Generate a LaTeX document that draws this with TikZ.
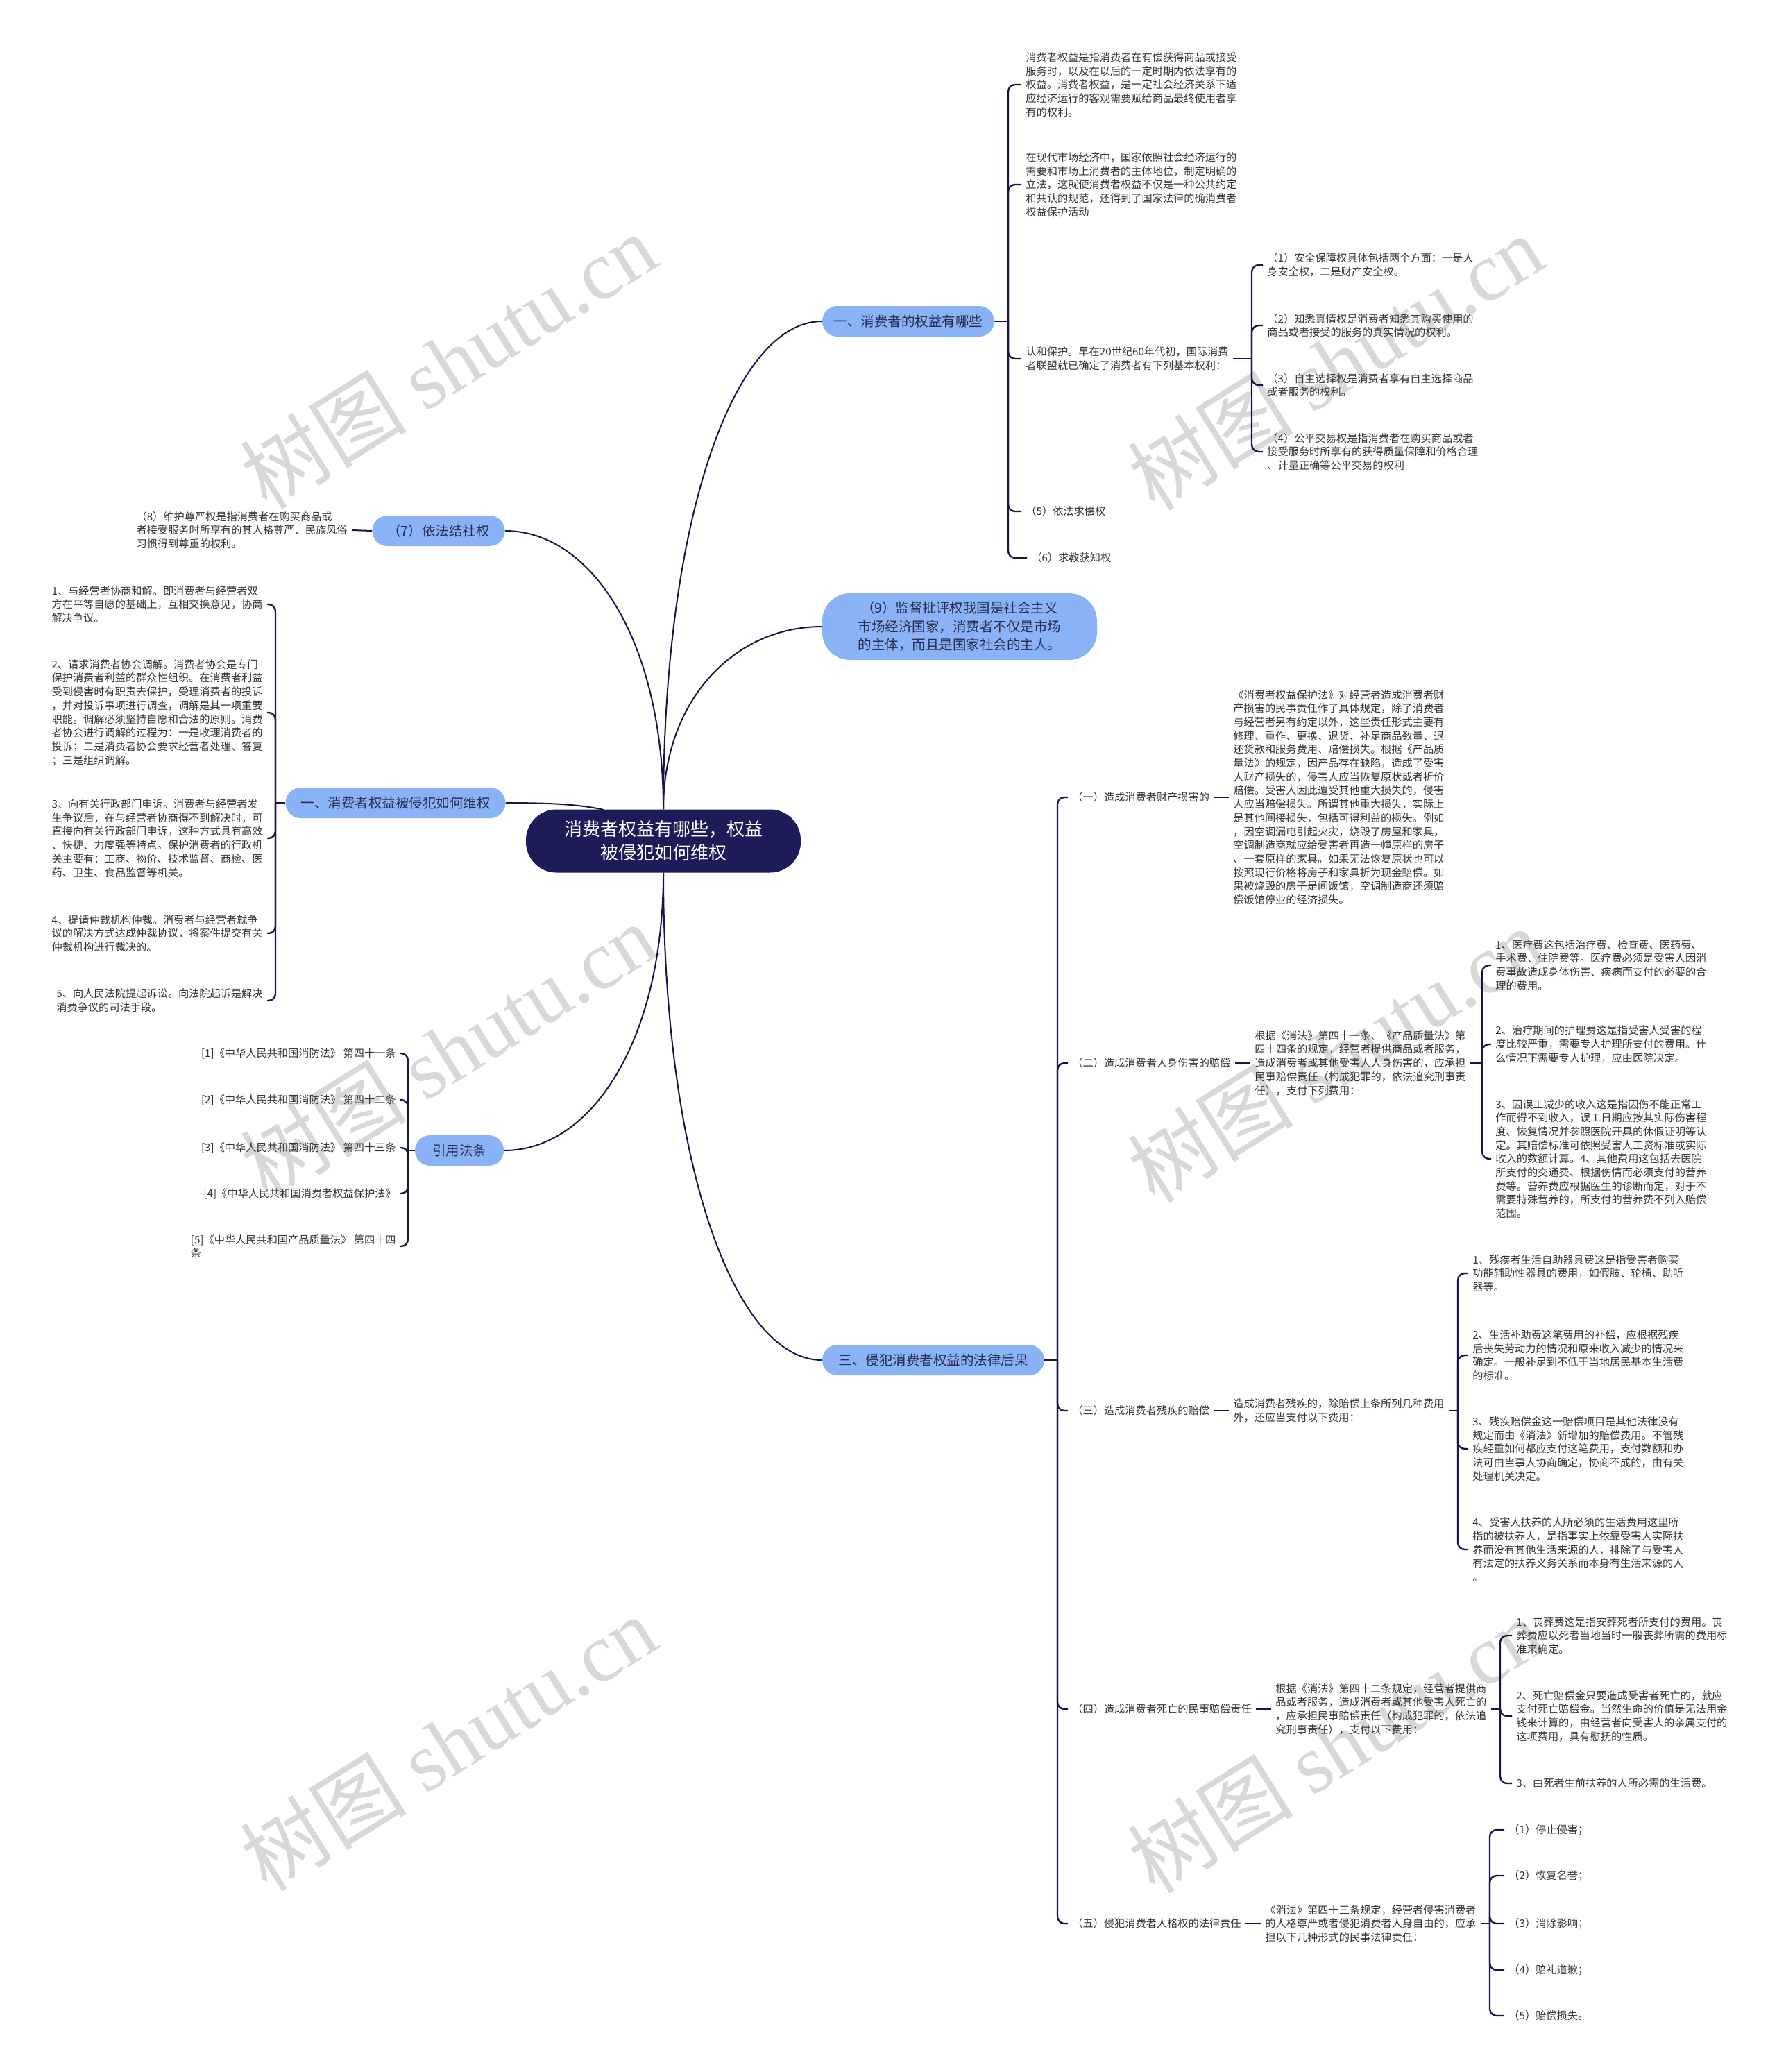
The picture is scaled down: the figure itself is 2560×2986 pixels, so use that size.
\documentclass[tikz,border=0pt]{standalone}
\usepackage{fontspec}
\setmainfont{Noto Sans CJK SC}
\newfontfamily\wmlatin{Liberation Serif}
\definecolor{navy}{RGB}{30,28,88}
\definecolor{lnc}{RGB}{22,22,70}
\definecolor{blu}{RGB}{137,178,247}
\definecolor{blutext}{RGB}{40,44,78}
\definecolor{txtc}{RGB}{51,51,51}
\definecolor{wmc}{RGB}{216,216,216}
\tikzset{
 txt/.style={inner sep=3pt, align=left, text=txtc, font=\fontsize{7.6}{9.85}\selectfont},
 bnode/.style={fill=blu, text=blutext, rounded corners=11pt, minimum height=22pt, inner sep=0pt, align=center, font=\fontsize{9.75}{13.3}\selectfont},
 rootn/.style={fill=navy, text=white, rounded corners=22pt, minimum width=198pt, minimum height=45.5pt, inner sep=0pt, align=center, font=\fontsize{13}{17}\selectfont},
 conn/.style={draw=lnc, line width=1pt},
 brace/.style={draw=lnc, line width=1.2pt, rounded corners=5pt},
 wm/.style={text=wmc, inner sep=0pt, font=\fontsize{60}{60}\selectfont}
}
\begin{document}
\begin{tikzpicture}[x=0.5pt,y=-0.5pt]
\fill[white] (0,0) rectangle (2560,2986);
\useasboundingbox (0,0) rectangle (2560,2986);
% watermarks
\node[wm, rotate=32] (w1) at (646,520) {树图 {\wmlatin shutu.cn}};
\node[wm, rotate=32] (w2) at (646,1514) {树图 {\wmlatin shutu.cn}};
\node[wm, rotate=32] (w3) at (646,2512) {树图 {\wmlatin shutu.cn}};
\node[wm, rotate=32] (w4) at (1924,522) {树图 {\wmlatin shutu.cn}};
\node[wm, rotate=32] (w5) at (1924,1520) {树图 {\wmlatin shutu.cn}};
\node[wm, rotate=32] (w6) at (1924,2515) {树图 {\wmlatin shutu.cn}};

% root and branch nodes
\node[rootn] (root) at (956,1212) {消费者权益有哪些，权益\\被侵犯如何维权};
\node[bnode, minimum width=124pt] (B1) at (1309,463) {一、消费者的权益有哪些};
\node[bnode, minimum width=198pt, minimum height=48pt, rounded corners=20pt] (B9) at (1383,903) {（9）监督批评权我国是社会主义\\市场经济国家，消费者不仅是市场\\的主体，而且是国家社会的主人。};
\node[bnode, minimum width=160pt] (B3) at (1345,1960) {三、侵犯消费者权益的法律后果};
\node[bnode, minimum width=95.5pt] (B7) at (632,765) {（7）依法结社权};
\node[bnode, minimum width=158.5pt] (BL) at (570,1157) {一、消费者权益被侵犯如何维权};
\node[bnode, minimum width=64pt] (BR) at (662,1658) {引用法条};
\coordinate (rootTL) at (870,1167);

% branch 1 children
\node[txt, anchor=west] (a1) at (1472,122) {消费者权益是指消费者在有偿获得商品或接受\\服务时，以及在以后的一定时期内依法享有的\\权益。消费者权益，是一定社会经济关系下适\\应经济运行的客观需要赋给商品最终使用者享\\有的权利。};
\node[txt, anchor=west] (a2) at (1472,266) {在现代市场经济中，国家依照社会经济运行的\\需要和市场上消费者的主体地位，制定明确的\\立法，这就使消费者权益不仅是一种公共约定\\和共认的规范，还得到了国家法律的确消费者\\权益保护活动};
\node[txt, anchor=west] (a3) at (1472,517) {认和保护。早在20世纪60年代初，国际消费\\者联盟就已确定了消费者有下列基本权利：};
\node[txt, anchor=west] (a31) at (1820,382) {（1）安全保障权具体包括两个方面：一是人\\身安全权，二是财产安全权。};
\node[txt, anchor=west] (a32) at (1820,469) {（2）知悉真情权是消费者知悉其购买使用的\\商品或者接受的服务的真实情况的权利。};
\node[txt, anchor=west] (a33) at (1820,555) {（3）自主选择权是消费者享有自主选择商品\\或者服务的权利。};
\node[txt, anchor=west] (a34) at (1820,651) {（4）公平交易权是指消费者在购买商品或者\\接受服务时所享有的获得质量保障和价格合理\\、计量正确等公平交易的权利};
\node[txt, anchor=west] (a4) at (1472,737) {（5）依法求偿权};
\node[txt, anchor=west] (a5) at (1480,804) {（6）求教获知权};

% branch 3 children
\node[txt, anchor=west] (l1) at (1539,1149) {（一）造成消费者财产损害的};
\node[txt, anchor=west] (t1) at (1771,1149) {《消费者权益保护法》对经营者造成消费者财\\产损害的民事责任作了具体规定，除了消费者\\与经营者另有约定以外，这些责任形式主要有\\修理、重作、更换、退货、补足商品数量、退\\还货款和服务费用、赔偿损失。根据《产品质\\量法》的规定，因产品存在缺陷，造成了受害\\人财产损失的，侵害人应当恢复原状或者折价\\赔偿。受害人因此遭受其他重大损失的，侵害\\人应当赔偿损失。所谓其他重大损失，实际上\\是其他间接损失，包括可得利益的损失。例如\\，因空调漏电引起火灾，烧毁了房屋和家具，\\空调制造商就应给受害者再造一幢原样的房子\\、一套原样的家具。如果无法恢复原状也可以\\按照现行价格将房子和家具折为现金赔偿。如\\果被烧毁的房子是间饭馆，空调制造商还须赔\\偿饭馆停业的经济损失。};
\node[txt, anchor=west] (l2) at (1539,1532) {（二）造成消费者人身伤害的赔偿};
\node[txt, anchor=west] (t2) at (1802,1532) {根据《消法》第四十一条、《产品质量法》第\\四十四条的规定，经营者提供商品或者服务，\\造成消费者或其他受害人人身伤害的，应承担\\民事赔偿责任（构成犯罪的，依法追究刑事责\\任），支付下列费用：};
\node[txt, anchor=west] (c21) at (2149,1391) {1、医疗费这包括治疗费、检查费、医药费、\\手术费、住院费等。医疗费必须是受害人因消\\费事故造成身体伤害、疾病而支付的必要的合\\理的费用。};
\node[txt, anchor=west] (c22) at (2149,1505) {2、治疗期间的护理费这是指受害人受害的程\\度比较严重，需要专人护理所支付的费用。什\\么情况下需要专人护理，应由医院决定。};
\node[txt, anchor=west] (c23) at (2149,1670) {3、因误工减少的收入这是指因伤不能正常工\\作而得不到收入，误工日期应按其实际伤害程\\度、恢复情况并参照医院开具的休假证明等认\\定。其赔偿标准可依照受害人工资标准或实际\\收入的数额计算。4、其他费用这包括去医院\\所支付的交通费、根据伤情而必须支付的营养\\费等。营养费应根据医生的诊断而定，对于不\\需要特殊营养的，所支付的营养费不列入赔偿\\范围。};
\node[txt, anchor=west] (l3) at (1539,2033) {（三）造成消费者残疾的赔偿};
\node[txt, anchor=west] (t3) at (1771,2033) {造成消费者残疾的，除赔偿上条所列几种费用\\外，还应当支付以下费用：};
\node[txt, anchor=west] (c31) at (2116,1835) {1、残疾者生活自助器具费这是指受害者购买\\功能辅助性器具的费用，如假肢、轮椅、助听\\器等。};
\node[txt, anchor=west] (c32) at (2116,1953) {2、生活补助费这笔费用的补偿，应根据残疾\\后丧失劳动力的情况和原来收入减少的情况来\\确定。一般补足到不低于当地居民基本生活费\\的标准。};
\node[txt, anchor=west] (c33) at (2116,2088) {3、残疾赔偿金这一赔偿项目是其他法律没有\\规定而由《消法》新增加的赔偿费用。不管残\\疾轻重如何都应支付这笔费用，支付数额和办\\法可由当事人协商确定，协商不成的，由有关\\处理机关决定。};
\node[txt, anchor=west] (c34) at (2116,2233) {4、受害人扶养的人所必须的生活费用这里所\\指的被扶养人，是指事实上依靠受害人实际扶\\养而没有其他生活来源的人，排除了与受害人\\有法定的扶养义务关系而本身有生活来源的人\\。};
\node[txt, anchor=west] (l4) at (1539,2463) {（四）造成消费者死亡的民事赔偿责任};
\node[txt, anchor=west] (t4) at (1832,2463) {根据《消法》第四十二条规定，经营者提供商\\品或者服务，造成消费者或其他受害人死亡的\\，应承担民事赔偿责任（构成犯罪的，依法追\\究刑事责任），支付以下费用：};
\node[txt, anchor=west] (c41) at (2179,2357) {1、丧葬费这是指安葬死者所支付的费用。丧\\葬费应以死者当地当时一般丧葬所需的费用标\\准来确定。};
\node[txt, anchor=west] (c42) at (2179,2473) {2、死亡赔偿金只要造成受害者死亡的，就应\\支付死亡赔偿金。当然生命的价值是无法用金\\钱来计算的，由经营者向受害人的亲属支付的\\这项费用，具有慰抚的性质。};
\node[txt, anchor=west] (c43) at (2179,2570) {3、由死者生前扶养的人所必需的生活费。};
\node[txt, anchor=west] (l5) at (1539,2772) {（五）侵犯消费者人格权的法律责任};
\node[txt, anchor=west] (t5) at (1817,2772) {《消法》第四十三条规定，经营者侵害消费者\\的人格尊严或者侵犯消费者人身自由的，应承\\担以下几种形式的民事法律责任：};
\node[txt, anchor=west] (c51) at (2168,2637) {（1）停止侵害；};
\node[txt, anchor=west] (c52) at (2168,2703) {（2）恢复名誉；};
\node[txt, anchor=west] (c53) at (2168,2772) {（3）消除影响；};
\node[txt, anchor=west] (c54) at (2168,2839) {（4）赔礼道歉；};
\node[txt, anchor=west] (c55) at (2168,2905) {（5）赔偿损失。};

% left children
\node[txt, anchor=east] (p8) at (507,764) {（8）维护尊严权是指消费者在购买商品或\\者接受服务时所享有的其人格尊严、民族风俗\\习惯得到尊重的权利。};
\node[txt, anchor=east] (L1) at (385,871) {1、与经营者协商和解。即消费者与经营者双\\方在平等自愿的基础上，互相交换意见，协商\\解决争议。};
\node[txt, anchor=east] (L2) at (385,1027) {2、请求消费者协会调解。消费者协会是专门\\保护消费者利益的群众性组织。在消费者利益\\受到侵害时有职责去保护，受理消费者的投诉\\，并对投诉事项进行调查，调解是其一项重要\\职能。调解必须坚持自愿和合法的原则。消费\\者协会进行调解的过程为：一是收理消费者的\\投诉；二是消费者协会要求经营者处理、答复\\；三是组织调解。};
\node[txt, anchor=east] (L3) at (385,1208) {3、向有关行政部门申诉。消费者与经营者发\\生争议后，在与经营者协商得不到解决时，可\\直接向有关行政部门申诉，这种方式具有高效\\、快捷、力度强等特点。保护消费者的行政机\\关主要有：工商、物价、技术监督、商检、医\\药、卫生、食品监督等机关。};
\node[txt, anchor=east] (L4) at (385,1345) {4、提请仲裁机构仲裁。消费者与经营者就争\\议的解决方式达成仲裁协议，将案件提交有关\\仲裁机构进行裁决的。};
\node[txt, anchor=east] (L5) at (385,1442) {5、向人民法院提起诉讼。向法院起诉是解决\\消费争议的司法手段。};
\node[txt, anchor=east] (R1) at (577,1518) {[1]《中华人民共和国消防法》 第四十一条};
\node[txt, anchor=east] (R2) at (577,1585) {[2]《中华人民共和国消防法》 第四十二条};
\node[txt, anchor=east] (R3) at (577,1654) {[3]《中华人民共和国消防法》 第四十三条};
\node[txt, anchor=east] (R4) at (577,1720) {[4]《中华人民共和国消费者权益保护法》};
\node[txt, anchor=east] (R5) at (577,1796) {[5]《中华人民共和国产品质量法》 第四十四\\条};

% root connectors
\draw[conn] (root.north) .. controls (956,744) and (1059,463) .. (B1.west);
\draw[conn] (root.north) .. controls (956,1008) and (1059,903) .. (B9.west);
\draw[conn] (root.south) .. controls (956,1679) and (1059,1960) .. (B3.west);
\draw[conn] (root.north) .. controls (956,925) and (853,765) .. (B7.east);
\draw[conn] (BL.east) .. controls (800,1157) and (840,1160) .. (rootTL);
\draw[conn] (root.south) .. controls (956,1498) and (853,1658) .. (BR.east);

% branch 1
\draw[conn] (B1.east) -- (1453,463);
\foreach \c in {a1,a2,a3,a4,a5} \draw[brace] (1453,463) |- (\c.west);
\draw[conn] (a3.east) -- (1804,517);
\foreach \c in {a31,a32,a33,a34} \draw[brace] (1804,517) |- (\c.west);

% branch 3
\draw[conn] (B3.east) -- (1524,1960);
\foreach \c in {l1,l2,l3,l4,l5} \draw[brace] (1524,1960) |- (\c.west);
\draw[conn] (l1.east) -- (t1.west);
\draw[conn] (l2.east) -- (t2.west);
\draw[conn] (l3.east) -- (t3.west);
\draw[conn] (l4.east) -- (t4.west);
\draw[conn] (l5.east) -- (t5.west);
\draw[conn] (t2.east) -- (2136,1532);
\foreach \c in {c21,c22,c23} \draw[brace] (2136,1532) |- (\c.west);
\draw[conn] (t3.east) -- (2101,2033);
\foreach \c in {c31,c32,c33,c34} \draw[brace] (2101,2033) |- (\c.west);
\draw[conn] (t4.east) -- (2162,2463);
\foreach \c in {c41,c42,c43} \draw[brace] (2162,2463) |- (\c.west);
\draw[conn] (t5.east) -- (2147,2772);
\foreach \c in {c51,c52,c53,c54,c55} \draw[brace] (2147,2772) |- (\c.west);

% left
\draw[conn] (B7.west) -- (p8.east);
\draw[conn] (BL.west) -- (397,1157);
\foreach \c in {L1,L2,L3,L4,L5} \draw[brace] (397,1157) |- (\c.east);
\draw[conn] (BR.west) -- (588,1658);
\foreach \c in {R1,R2,R3,R4,R5} \draw[brace] (588,1658) |- (\c.east);
\end{tikzpicture}
\end{document}
